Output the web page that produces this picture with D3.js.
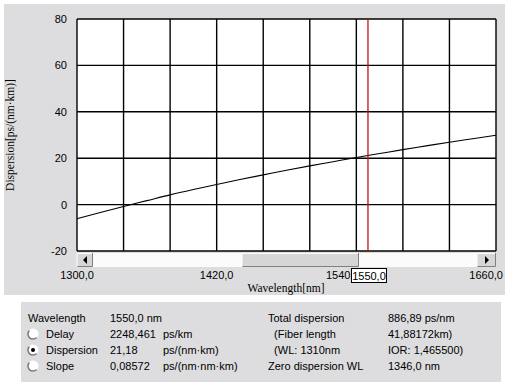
<!DOCTYPE html>
<meta charset="utf-8">
<style>
body { margin: 0; background: #fff; }
text { font-family: "Liberation Sans", Arial, sans-serif; font-size: 11px; fill: #000; }
.serif { font-family: "Liberation Serif", "Times New Roman", serif; font-size: 11.5px; }
</style>
<body>
<script src="https://d3js.org/d3.v7.min.js"></script>
<script>

// wavelengths (nm) and dispersion ps/(nm·km)
var wavelengths = [1300, 1320, 1340, 1360, 1380, 1400, 1420, 1440, 1460, 1480,
                   1500, 1520, 1540, 1560, 1580, 1600, 1620, 1640, 1660];
var dispersion = [-6.1, -3.4, -0.8, 1.7, 4.2, 6.5, 8.7, 10.8, 12.8, 14.8,
                  16.7, 18.5, 20.3, 22.0, 23.7, 25.3, 26.9, 28.4, 29.9];

var xDomain = [1300, 1660],
    yDomain = [-20, 80];
var xLabelTicks = [1300, 1420, 1540, 1660];
var yTicks = [-20, 0, 20, 40, 60, 80];
var cursorWL = 1550;

var infoLeft = [
  ["Wavelength", "1550,0 nm", ""],
  ["Delay", "2248,461", "ps/km"],
  ["Dispersion", "21,18", "ps/(nm·km)"],
  ["Slope", "0,08572", "ps/(nm·nm·km)"]
];
var infoRight = [
  ["Total dispersion", "886,89 ps/nm"],
  ["  (Fiber length", "41,88172km)"],
  ["  (WL: 1310nm", "IOR: 1,465500)"],
  ["Zero dispersion WL", "1346,0 nm"]
];
var selectedRow = 2;

var width = 510, height = 382;
var gray = "#dddddf";

var fmt = d3.formatLocale({decimal: ",", thousands: "", grouping: [3], currency: ["", ""]}).format(".1f");

var x = d3.scaleLinear().domain(xDomain).range([77, 496]);
var y = d3.scaleLinear().domain(yDomain).range([251, 19]);

var svg = d3.select("body").append("svg")
    .attr("width", width)
    .attr("height", height);

// panels
svg.append("rect").attr("x", 4).attr("y", 4).attr("width", 501).attr("height", 291).attr("fill", gray);
svg.append("rect").attr("x", 21).attr("y", 302).attr("width", 480).attr("height", 80).attr("fill", gray);

// plot area
svg.append("rect")
    .attr("x", x(xDomain[0])).attr("y", y(yDomain[1]))
    .attr("width", x(xDomain[1]) - x(xDomain[0]))
    .attr("height", y(yDomain[0]) - y(yDomain[1]))
    .attr("fill", "#fff");

var xGrid = d3.range(xDomain[0], xDomain[1] + 1, 40);
var grid = svg.append("g").attr("stroke", "#000").attr("stroke-width", 1.4);
grid.selectAll(".vx").data(xGrid).enter().append("line")
    .attr("x1", function(d) { return x(d); }).attr("x2", function(d) { return x(d); })
    .attr("y1", y(yDomain[1])).attr("y2", y(yDomain[0]));
grid.selectAll(".hy").data(yTicks).enter().append("line")
    .attr("y1", function(d) { return y(d); }).attr("y2", function(d) { return y(d); })
    .attr("x1", x(xDomain[0])).attr("x2", x(xDomain[1]));

// curve
var line = d3.line()
    .x(function(d, i) { return x(wavelengths[i]); })
    .y(function(d) { return y(d); })
    .curve(d3.curveMonotoneX);
svg.append("path")
    .datum(dispersion)
    .attr("d", line)
    .attr("fill", "none")
    .attr("stroke", "#000")
    .attr("stroke-width", 1.1);

// cursor
svg.append("line")
    .attr("x1", x(cursorWL)).attr("x2", x(cursorWL))
    .attr("y1", y(yDomain[1])).attr("y2", y(yDomain[0]))
    .attr("stroke", "#c8101a").attr("stroke-width", 1.3);

// y tick labels
svg.selectAll(".ylab").data(yTicks).enter().append("text")
    .attr("x", 67)
    .attr("y", function(d) { return y(d) + 4; })
    .attr("text-anchor", "end")
    .text(function(d) { return d; });

// scrollbar
var sbY = 253, sbH = 14;
svg.append("rect").attr("x", 77).attr("y", sbY).attr("width", 419).attr("height", sbH).attr("fill", "#fbfbfb");
function bevel(x0, w) {
  svg.append("rect").attr("x", x0).attr("y", sbY).attr("width", w).attr("height", sbH).attr("fill", "#d6d6d6");
  svg.append("path").attr("d", "M" + x0 + "," + (sbY + sbH - 0.5) + "V" + (sbY + 0.5) + "H" + (x0 + w - 0.5))
    .attr("fill", "none").attr("stroke", "#fff");
  svg.append("path").attr("d", "M" + (x0 + 0.5) + "," + (sbY + sbH - 0.5) + "H" + (x0 + w - 0.5) + "V" + sbY)
    .attr("fill", "none").attr("stroke", "#808080");
}
bevel(77, 16);
bevel(477, 19);
bevel(242, 117);
svg.append("path").attr("d", "M83,260l4,-4v8z").attr("fill", "#000");
svg.append("path").attr("d", "M489,260l-4,-4v8z").attr("fill", "#000");

// cursor label box geometry
var cx = x(cursorWL), boxL = cx - 16.5;

// x tick labels (the one under the cursor box is cut at the box edge)
var last = xLabelTicks.length - 1;
svg.selectAll(".xlab").data(xLabelTicks).enter().append("text")
    .attr("x", function(d, i) {
      if (i === last) return 503;
      if (x(d) + 17 > boxL && x(d) - 17 < boxL + 35) return boxL - 1;
      return x(d);
    })
    .attr("y", 279)
    .attr("text-anchor", function(d, i) {
      if (i === last || (x(d) + 17 > boxL && x(d) - 17 < boxL + 35)) return "end";
      return "middle";
    })
    .text(function(d, i) {
      if (i !== last && x(d) + 17 > boxL && x(d) - 17 < boxL + 35) return String(d);
      return fmt(d);
    });

svg.append("rect").attr("x", boxL).attr("y", 268.5).attr("width", 35).attr("height", 14)
    .attr("fill", "#fff").attr("stroke", "#000");
svg.append("text").attr("x", cx + 1).attr("y", 280).attr("text-anchor", "middle").text(fmt(cursorWL));

// axis titles
svg.append("text").attr("class", "serif")
    .attr("x", 286).attr("y", 292).attr("text-anchor", "middle")
    .text("Wavelength[nm]");
svg.append("text").attr("class", "serif")
    .attr("transform", "translate(14," + y(30) + ")rotate(-90)")
    .attr("text-anchor", "middle")
    .text("Dispersion[ps/(nm·km)]");

// info panel
var rowY = [322, 338, 354, 370];
infoLeft.forEach(function(r, i) {
  var tx = i === 0 ? 28 : 46;
  svg.append("text").attr("x", tx).attr("y", rowY[i]).text(r[0]);
  svg.append("text").attr("x", 110).attr("y", rowY[i]).text(r[1]);
  if (r[2]) svg.append("text").attr("x", 163).attr("y", rowY[i]).text(r[2]);
  if (i > 0) {
    var cy = rowY[i] - 4, ccx = 33, r0 = 5.5;
    svg.append("circle").attr("cx", ccx).attr("cy", cy).attr("r", r0).attr("fill", "#fff");
    svg.append("path")
      .attr("d", d3.arc()({innerRadius: r0 - 1.2, outerRadius: r0 + 0.3, startAngle: -Math.PI * 0.75, endAngle: Math.PI * 0.25}))
      .attr("transform", "translate(" + ccx + "," + cy + ")rotate(-90)")
      .attr("fill", "#7a7a7a");
    if (i === selectedRow) {
      svg.append("circle").attr("cx", ccx).attr("cy", cy).attr("r", 2).attr("fill", "#000");
    }
  }
});
infoRight.forEach(function(r, i) {
  svg.append("text").attr("x", 268).attr("y", rowY[i]).style("white-space", "pre").text(r[0]);
  svg.append("text").attr("x", 388).attr("y", rowY[i]).text(r[1]);
});

</script>
